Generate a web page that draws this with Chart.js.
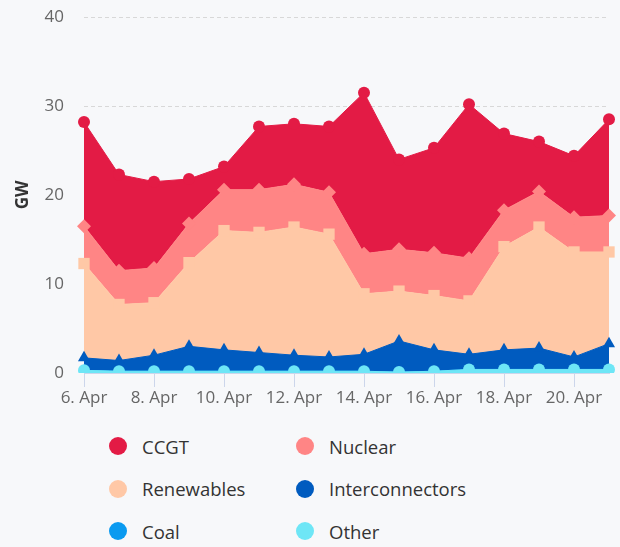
<!DOCTYPE html>
<html>
<head>
<meta charset="utf-8">
<script src="https://cdn.jsdelivr.net/npm/chart.js@4"></script>
<style>
  body { margin: 0; background: #f7f8fa; font-family: "Open Sans", sans-serif; }
  #wrap { position: relative; width: 620px; height: 547px; }
  #box { position: absolute; left: 0; top: 0; width: 620px; height: 410px; }
  #legend { position: absolute; left: 109px; top: 425px; display: grid;
    grid-template-columns: 187px auto; grid-auto-rows: 42.5px; }
  .item { display: flex; align-items: center; font-size: 18.5px; color: #333; }
  .dot { width: 18px; height: 18px; border-radius: 50%; margin-right: 15px; }
</style>
</head>
<body>
<div id="wrap">
  <div id="box"><canvas id="c"></canvas></div>
  <div id="legend"></div>
</div>
<script>
// days shown on the x axis
const days = ['6. Apr', '7. Apr', '8. Apr', '9. Apr', '10. Apr', '11. Apr', '12. Apr', '13. Apr',
  '14. Apr', '15. Apr', '16. Apr', '17. Apr', '18. Apr', '19. Apr', '20. Apr', '21. Apr'];

// GW per source, stacked from the bottom (Other) up to CCGT
const other = [0.3, 0.2, 0.2, 0.2, 0.2, 0.2, 0.2, 0.2, 0.2, 0.1, 0.2, 0.4, 0.4, 0.4, 0.4, 0.4];
const coal = [0, 0, 0, 0, 0, 0, 0, 0, 0, 0, 0, 0, 0, 0, 0, 0];
const interconnectors = [1.4, 1.2, 1.8, 2.8, 2.4, 2.1, 1.8, 1.6, 1.9, 3.5, 2.4, 1.7, 2.2, 2.4, 1.4, 2.9];
const renewables = [10.6, 6.3, 5.9, 9.4, 13.4, 13.5, 14.4, 13.8, 6.8, 5.6, 6.1, 6.0, 11.6, 13.6, 11.8, 10.3];
const nuclear = [4.2, 3.8, 3.9, 4.4, 4.6, 4.8, 4.8, 4.7, 4.5, 4.7, 4.8, 4.8, 4.1, 4.0, 3.9, 4.1];
const ccgt = [11.7, 10.8, 9.7, 5.0, 2.6, 7.1, 6.8, 7.4, 18.1, 10.1, 11.8, 17.3, 8.6, 5.6, 6.9, 10.8];

const yTicks = [0, 10, 20, 30, 40];

function series(label, data, color, style, radius, fill) {
    return {
        label: label, data: data, fill: fill,
        backgroundColor: color, borderColor: color, borderWidth: 1,
        pointStyle: style, pointRadius: radius,
        pointBackgroundColor: color, pointBorderColor: color, pointBorderWidth: 0,
        tension: 0
    };
}

const datasets = [
    series('Other', other, '#6ee6f6', 'circle', 6, 'origin'),
    series('Coal', coal, '#0a9af0', 'triangle', 6, '-1'),
    series('Interconnectors', interconnectors, '#005bbf', 'triangle', 7, '-1'),
    series('Renewables', renewables, '#ffc8a6', 'rect', 8, '-1'),
    series('Nuclear', nuclear, '#ff8585', 'rectRot', 7, '-1'),
    series('CCGT', ccgt, '#e31b45', 'circle', 6, '-1')
];

Chart.defaults.font.family = '"Open Sans", sans-serif';

new Chart(document.getElementById('c'), {
    type: 'line',
    data: { labels: days, datasets: datasets },
    options: {
        responsive: true,
        maintainAspectRatio: false,
        animation: false,
        layout: { padding: { top: 17, right: 11, bottom: 0, left: 0 } },
        plugins: { legend: { display: false }, tooltip: { enabled: false } },
        scales: {
            x: {
                afterFit: s => { s.height = 37; },
                border: { display: true, color: '#ccd6eb' },
                grid: {
                    drawOnChartArea: false, drawTicks: true, tickLength: 14,
                    color: ctx => ctx.index % 2 === 0 ? '#ccd6eb' : 'rgba(0,0,0,0)'
                },
                ticks: {
                    autoSkip: false, maxRotation: 0, padding: 1,
                    color: '#666', font: { size: 17 },
                    callback: (v, i) => i % 2 === 0 ? days[i] : ''
                }
            },
            y: {
                stacked: true, min: 0, max: 40,
                // fixed width, and no extra room above/below for the tick labels
                afterFit: s => { s.width = 84; s.paddingTop = 0; s.paddingBottom = 0; },
                afterBuildTicks: s => { s.ticks = yTicks.map(v => ({ value: v })); },
                grid: {
                    drawTicks: false,
                    color: ctx => ctx.tick && ctx.tick.value === 0 ? 'rgba(0,0,0,0)' : '#d8d8d8'
                },
                border: { display: false, dash: [4, 3] },
                ticks: { padding: 20, color: '#666', font: { size: 17 } },
                title: {
                    display: true, text: 'GW', color: '#333',
                    font: { size: 17, weight: 'bold' }, padding: { top: 13, bottom: 0 }
                }
            }
        }
    }
});

// legend in the reference's order, two columns
const legendOrder = ['CCGT', 'Nuclear', 'Renewables', 'Interconnectors', 'Coal', 'Other'];
const legend = document.getElementById('legend');
legendOrder.forEach(name => {
    const ds = datasets.find(d => d.label === name);
    const item = document.createElement('div');
    item.className = 'item';
    item.innerHTML = '<span class="dot" style="background:' + ds.backgroundColor + '"></span>' + name;
    legend.appendChild(item);
});
</script>
</body>
</html>
